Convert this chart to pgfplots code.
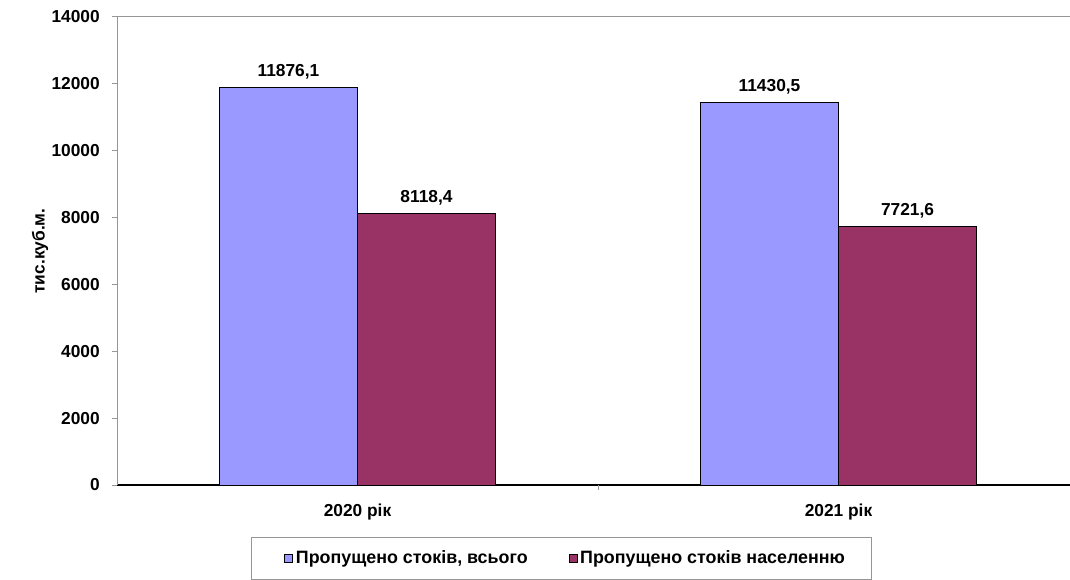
\documentclass[border=0pt]{standalone}
\usepackage{fontspec}
\setmainfont{Liberation Sans}
\usepackage{pgfplots}
\pgfplotsset{compat=1.18}
\definecolor{barblue}{RGB}{153,153,255}
\definecolor{barmaroon}{RGB}{153,51,102}
\definecolor{axgray}{RGB}{150,150,150}
\begin{document}
\begin{tikzpicture}[font=\bfseries\fontsize{13}{15}\selectfont]
\useasboundingbox (0,0) rectangle (802.5pt,434.25pt);
\begin{axis}[
  at={(87.75pt,70.5pt)}, anchor=south west,
  scale only axis, width=721.5pt, height=351pt,
  ybar=0pt, bar width=103.5pt,
  xmin=-0.5, xmax=1.5, ymin=0, ymax=14000,
  ytick={0,2000,...,14000}, scaled y ticks=false,
  xtick={0,1}, xticklabels={2020 рік, 2021 рік},
  x tick style={draw=none},
  extra x ticks={0.5}, extra x tick labels={},
  extra x tick style={x tick style={draw=axgray, line width=0.75pt}},
  y tick style={draw=axgray, line width=0.75pt},
  tick align=outside, major tick length=3.75pt,
  axis x line*=bottom, axis y line*=left,
  x axis line style={black, line width=1pt},
  y axis line style={axgray, line width=0.75pt},
  /pgf/number format/assume math mode=true,
  /pgf/number format/1000 sep={},
  yticklabel style={anchor=east, inner sep=0pt, xshift=-9pt},
  xticklabel style={anchor=base, inner sep=0pt, yshift=-20pt},
  ylabel={тис.куб.м.},
  every axis y label/.style={at={(axis description cs:-0.080,0.5)}, rotate=90, anchor=center},
  nodes near coords,
  nodes near coords style={/pgf/number format/use comma, /pgf/number format/fixed,
    /pgf/number format/fixed zerofill, /pgf/number format/precision=1,
    /pgf/number format/1000 sep={}, /pgf/number format/assume math mode=true},
  every node near coord/.append style={anchor=base, inner sep=0pt, yshift=8.5pt},
  legend columns=2,
  legend style={at={(axis description cs:0.1392,-0.1111)}, anchor=north west,
    draw=axgray, line width=0.75pt, inner xsep=18pt, inner ysep=8pt,
    font=\bfseries\fontsize{13.4}{15}\selectfont,
    /tikz/every even column/.append style={column sep=22pt},
    nodes={inner xsep=2pt}},
  legend image code/.code={\path[draw=none, fill=none] (-7pt,0) -- (0pt,0);
    \draw[#1, draw=black, line width=0.75pt] (0pt,-3pt) rectangle (6pt,3pt);},
]
\addplot[fill=barblue, draw=black, line width=0.75pt] coordinates {(0,11876.1) (1,11430.5)};
\addplot[fill=barmaroon, draw=black, line width=0.75pt] coordinates {(0,8118.4) (1,7721.6)};
\draw[axgray, line width=0.75pt] (rel axis cs:0,1) -- (rel axis cs:1,1);
\legend{Пропущено стоків{,} всього, Пропущено стоків населенню}
\end{axis}
\end{tikzpicture}
\end{document}
